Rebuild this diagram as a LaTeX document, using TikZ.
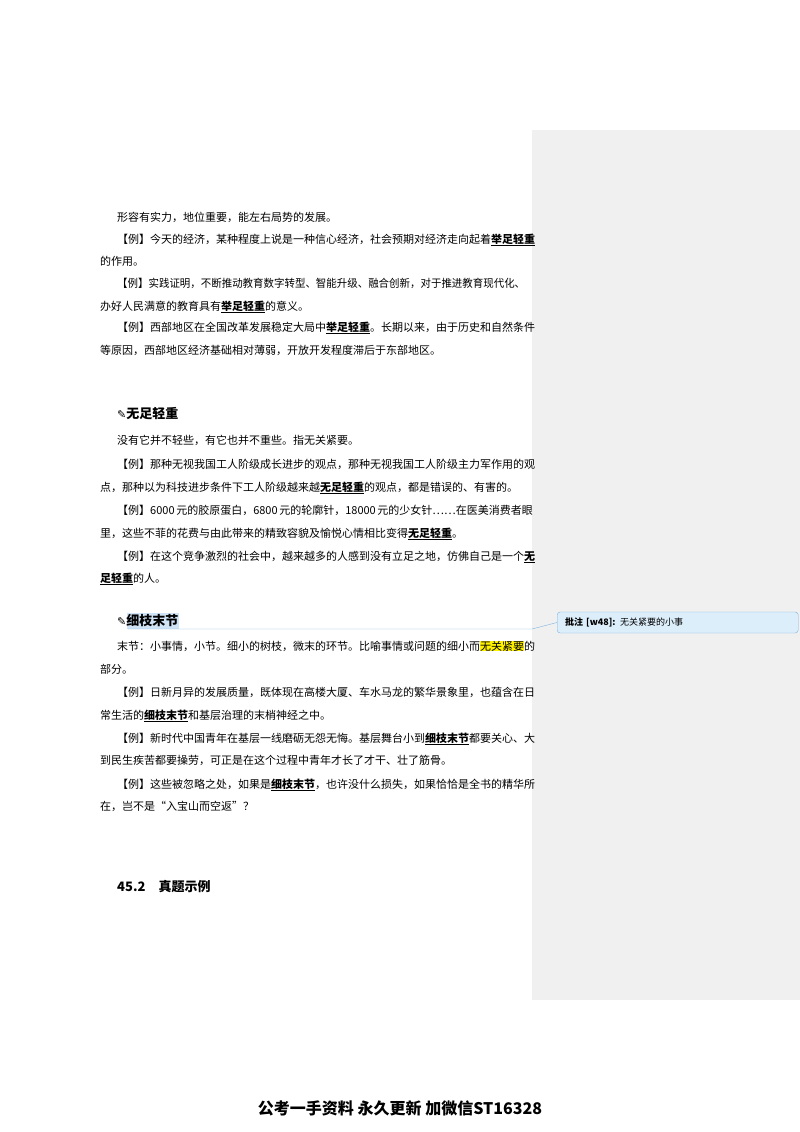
\documentclass[tikz,border=0pt]{standalone}
\usepackage{fontspec}
\usepackage{graphicx}
\setmainfont{Noto Sans CJK SC}
\newfontfamily\djv{DejaVu Sans}
\newcommand{\jl}[1]{\hbox to 408pt{#1}}
\newcommand{\sq}[1]{\resizebox{408pt}{\height}{#1}}
\newcommand{\kw}[1]{\underline{\textbf{#1}}}
\definecolor{band}{HTML}{F0F0F0}
\definecolor{cmt}{HTML}{DDEEFB}
\definecolor{cmtb}{HTML}{7FB2E0}
\definecolor{hl}{HTML}{CFE3F7}
\begin{document}
\begin{tikzpicture}[x=1pt,y=-1pt,
  t/.style={anchor=base west,inner sep=0pt,font=\fontsize{11}{13}\selectfont},
  h/.style={anchor=base west,inner sep=0pt,font=\fontsize{13}{15}\selectfont\bfseries}]
\useasboundingbox (0,0) rectangle (800,1132);
\fill[white] (0,0) rectangle (800,1132);
\fill[band] (532,130) rectangle (800,1000);
\node[t] (l1) at (117,221) {形容有实力，地位重要，能左右局势的发展。};
\node[t] (l2) at (117,243) {\jl{【例】今天的经济，某种程度上说是一种信心经济，社会预期对经济走向起着\kw{举足轻重}}};
\node[t] (l3) at (100,265) {的作用。};
\node[t] (l4) at (117,287) {\sq{【例】实践证明，不断推动教育数字转型、智能升级、融合创新，对于推进教育现代化、}};
\node[t] (l5) at (100,310) {办好人民满意的教育具有\kw{举足轻重}的意义。};
\node[t] (l6) at (117,331) {\jl{【例】西部地区在全国改革发展稳定大局中\kw{举足轻重}。长期以来，由于历史和自然条件}};
\node[t] (l7) at (100,354) {等原因，西部地区经济基础相对薄弱，开放开发程度滞后于东部地区。};
\node[h] (h1) at (117,418) {{\djv\fontsize{11}{13}\selectfont ✎}无足轻重};
\node[t] (m1) at (117,444) {没有它并不轻些，有它也并不重些。指无关紧要。};
\node[t] (m2) at (117,468) {\jl{【例】那种无视我国工人阶级成长进步的观点，那种无视我国工人阶级主力军作用的观}};
\node[t] (m3) at (100,491) {点，那种以为科技进步条件下工人阶级越来越\kw{无足轻重}的观点，都是错误的、有害的。};
\node[t] (m4) at (117,514) {\jl{【例】6000 元的胶原蛋白，6800 元的轮廓针，18000 元的少女针……在医美消费者眼}};
\node[t] (m5) at (100,537) {里，这些不菲的花费与由此带来的精致容貌及愉悦心情相比变得\kw{无足轻重}。};
\node[t] (m6) at (117,560) {\jl{【例】在这个竞争激烈的社会中，越来越多的人感到没有立足之地，仿佛自己是一个\kw{无}}};
\node[t] (m7) at (100,582) {\kw{足轻重}的人。};
\fill[hl] (127,613) rectangle (179,629);
\node[h] (h2) at (117,625) {{\djv\fontsize{11}{13}\selectfont ✎}细枝末节};
\node[t] (n1) at (117,650) {\jl{末节：小事情，小节。细小的树枝，微末的环节。比喻事情或问题的细小而{\fboxsep=0pt\colorbox{yellow}{无关紧要}}的}};
\node[t] (n2) at (100,673) {部分。};
\node[t] (n3) at (117,696) {\jl{【例】日新月异的发展质量，既体现在高楼大厦、车水马龙的繁华景象里，也蕴含在日}};
\node[t] (n4) at (100,719) {常生活的\kw{细枝末节}和基层治理的末梢神经之中。};
\node[t] (n5) at (117,742) {\jl{【例】新时代中国青年在基层一线磨砺无怨无悔。基层舞台小到\kw{细枝末节}都要关心、大}};
\node[t] (n6) at (100,764) {到民生疾苦都要操劳，可正是在这个过程中青年才长了才干、壮了筋骨。};
\node[t] (n7) at (117,788) {\jl{【例】这些被忽略之处，如果是\kw{细枝末节}，也许没什么损失，如果恰恰是全书的精华所}};
\node[t] (n8) at (100,810) {在，岂不是“入宝山而空返”？};
\node[h] (s1) at (117,891) {45.2\quad 真题示例};
\node[draw=cmtb,fill=cmt,rounded corners=3pt,minimum width=241pt,minimum height=21pt,
  anchor=west,inner sep=0pt,text width=233pt,align=left,font=\fontsize{9}{11}\selectfont] (c) at (557,622.5)
  {\hspace*{4pt}\textbf{批注 [w48]:} 无关紧要的小事};
\coordinate (a1) at (128,629);
\coordinate (a2) at (532,629);
\draw[cmtb,thin] (a1) -- (a2) -- (c.west);
\node[anchor=base,inner sep=0pt,font=\fontsize{16}{19}\selectfont\bfseries] (f) at (400,1114) {公考一手资料\ 永久更新\ 加微信ST16328};
\end{tikzpicture}
\end{document}
